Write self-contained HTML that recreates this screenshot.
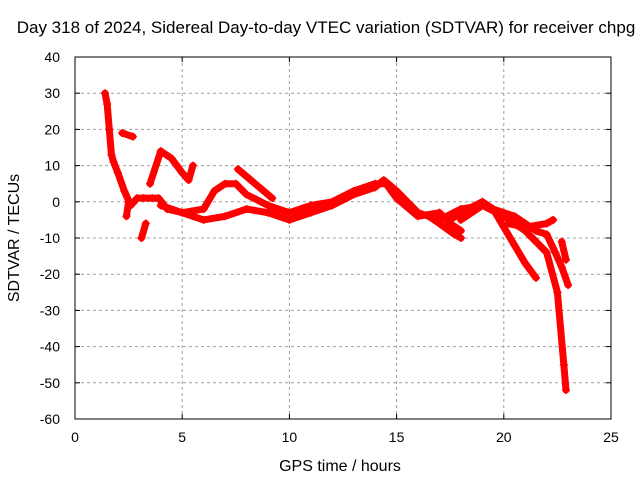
<!DOCTYPE html>
<html><head><meta charset="utf-8"><style>
body{margin:0;background:#fff}
svg{display:block;font-family:"Liberation Sans",sans-serif}
</style></head><body>
<svg id="chart" width="640" height="480">
<text x="326" y="33" font-size="17" text-anchor="middle">Day 318 of 2024, Sidereal Day-to-day VTEC variation (SDTVAR) for receiver chpg</text>
<text x="340" y="471" font-size="16" text-anchor="middle">GPS time / hours</text>
<text x="19" y="238" font-size="16" text-anchor="middle" transform="rotate(-90 19 238)">SDTVAR / TECUs</text>
<g id="grid"></g><g id="marks"></g>
<rect x="75" y="57" width="536" height="362" fill="none" stroke="#000" stroke-width="1"/>
</svg>
<script>
const xTicks=[0,5,10,15,20,25];
const yTicks=[40,30,20,10,0,-10,-20,-30,-40,-50,-60];
const s1h=[1.4,1.5,1.6,1.7,1.8,2.0,2.3,2.6,2.9,3.2,3.6,3.9,4.3,5,6,7,8,9,10,11,12,13,14,14.4,15,16,17,18,19,20,21,22,22.5,22.8,22.9];
const s1v=[30,27,20,13,11,8,3,-1,1,1,1,1,-2,-3,-5,-4,-2,-3,-5,-3,-1,2,4,6,3,-3,-5,-2,-1,-4,-8,-14,-25,-45,-52];
const s2h=[3.5,4,4.5,5,5.3,5.5];
const s2v=[5,14,12,8,6,10];
const s3h=[4,5,6,6.5,7,7.5,8,9,10,11,12,13,14,14.5,15,16,17,17.5,18];
const s3v=[-1,-3,-2,3,5,5,2,-1,-3,-1,0,3,5,5,1,-4,-3,-6,-8];
const s4h=[7.6,9.2];const s4v=[9,1];
const s5h=[2.2,2.7];const s5v=[19,18];
const s6h=[3.1,3.3];const s6v=[-10,-6];
const s7h=[2.4,2.5];const s7v=[-4,0];
const s8h=[17.5,18,19,19.5,20,20.5,21,21.5];const s8v=[-5,-3,0,-2,-7,-12,-17,-21];
const s9h=[18,19,20,20.5,21,21.5,22,22.4,22.7,23];const s9v=[-5,-1,-3,-4,-6,-8,-9,-14,-18,-23];
const s10h=[20.2,21,22,22.3];const s10v=[-6,-7,-6,-5];
const s11h=[22.7,22.9];const s11v=[-11,-16];
const s12h=[16.5,17,17.7,18];const s12v=[-4,-6,-9,-10];
const series=[[s1h,s1v],[s2h,s2v],[s3h,s3v],[s4h,s4v],[s5h,s5v],[s6h,s6v],[s7h,s7v],[s8h,s8v],[s9h,s9v],[s10h,s10v],[s11h,s11v],[s12h,s12v]];
const X=h=>75+h*536/25, Y=v=>57+(40-v)*362/100;
const NS="http://www.w3.org/2000/svg";
const svg=document.getElementById('chart'),grid=document.getElementById('grid'),marks=document.getElementById('marks');
function mk(t,a,p){const e=document.createElementNS(NS,t);for(const k in a)e.setAttribute(k,a[k]);p.appendChild(e);return e;}
xTicks.forEach(t=>{const x=X(t);
 if(t>0&&t<25){const g=mk('line',{x1:x,x2:x,y1:57,y2:419,stroke:'#a0a0a0','stroke-dasharray':'3,3'},grid);
 
 }
 mk('line',{x1:x,x2:x,y1:419,y2:414,stroke:'#000'},grid);mk('line',{x1:x,x2:x,y1:57,y2:62,stroke:'#000'},grid);
 const l=mk('text',{x:x,y:442,'font-size':14,'text-anchor':'middle'},grid);l.textContent=t;
 
 });
yTicks.forEach(t=>{const y=Y(t);
 if(t<40&&t>-60){const g=mk('line',{x1:75,x2:611,y1:y,y2:y,stroke:'#a0a0a0','stroke-dasharray':'3,3'},grid);
 
 }
 mk('line',{x1:75,x2:80,y1:y,y2:y,stroke:'#000'},grid);mk('line',{x1:611,x2:606,y1:y,y2:y,stroke:'#000'},grid);
 const l=mk('text',{x:60,y:y+5,'font-size':14,'text-anchor':'end'},grid);l.textContent=t;
 
 });
series.forEach((s,i)=>{const [hs,vs]=s;
 const pts=hs.map((h,j)=>X(h)+','+Y(vs[j])).join(' ');
 const pl=mk('polyline',{points:pts,fill:'none',stroke:'#f00','stroke-width':7,'stroke-linejoin':'round','stroke-linecap':'round'},marks);
 
 
 hs.forEach((h,j)=>{const x=X(h),y=Y(vs[j]);
  const p=mk('path',{d:`M${x-4},${y}H${x+4}M${x},${y-4}V${y+4}`,stroke:'#f00','stroke-width':1.5},marks);
  
  });});
</script>
</body></html>
